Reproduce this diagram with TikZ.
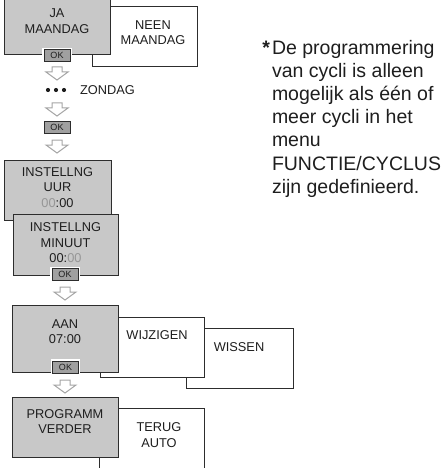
\documentclass[tikz,border=0pt]{standalone}
\usepackage{fontspec}
\setmainfont{Liberation Sans}
\definecolor{boxgray}{RGB}{200,200,200}
\definecolor{okgray}{RGB}{160,160,160}
\definecolor{edge}{RGB}{45,45,45}
\definecolor{arrowgray}{RGB}{165,165,165}
\definecolor{dimtext}{RGB}{150,150,150}
\definecolor{txt}{RGB}{30,30,30}
\begin{document}
\begin{tikzpicture}[x=1pt,y=-1pt,
  every node/.style={inner sep=0pt, outer sep=0pt},
  screen/.style={rectangle, draw=edge, line width=0.9pt, fill=boxgray},
  option/.style={rectangle, draw=edge, line width=0.9pt, fill=white},
  lbl/.style={text=txt, align=center, font=\fontsize{12.8}{15.5}\selectfont},
  okbtn/.style={rectangle, fill=okgray, draw=edge, line width=0.6pt,
    minimum width=26pt, minimum height=12pt,
    font=\fontsize{9}{10}\selectfont, text=txt,
    preaction={draw=white, line width=3.5pt}},
  hollowdown/.pic={\draw[draw=arrowgray, fill=white, line width=1pt, line join=miter]
    (-5,0) -- (5,0) -- (5,5) -- (11,5) -- (0,13) -- (-11,5) -- (-5,5) -- cycle;},
  note/.style={text=txt, align=left, font=\fontsize{19.5}{23.2}\selectfont},
]
\useasboundingbox (0,0) rectangle (444,468);

% --- Monday choice
\node[option, minimum width=105pt, minimum height=60pt] (neen) at (144.5,36) {};
\node[lbl] (neent) at (153,32.5) {NEEN\\MAANDAG};
\node[screen, minimum width=106pt, minimum height=59pt] (ja) at (57,24.5) {};
\node[lbl] (jat) at (57,21) {JA\\MAANDAG};
\node[okbtn] (ok1) at (57,55.5) {OK};
\pic at (57,67) {hollowdown};

% --- dots ZONDAG
\fill[txt] (48,90) circle[radius=2.1pt] (56,90) circle[radius=2.1pt] (64,90) circle[radius=2.1pt];
\node[lbl, anchor=west] (zon) at (80,90) {ZONDAG};
\pic at (57,103) {hollowdown};
\node[okbtn] (ok2) at (57,127) {OK};
\pic at (57,140) {hollowdown};

% --- hour / minute
\node[screen, minimum width=107pt, minimum height=60pt] (uur) at (57.5,190) {};
\node[lbl] (uurt) at (57.5,187.5) {INSTELLNG\\UUR\\{\color{dimtext}00}:00};
\node[screen, minimum width=105pt, minimum height=61pt] (min) at (65.5,244.5) {};
\node[lbl] (mint) at (65.5,243) {INSTELLNG\\MINUUT\\00:{\color{dimtext}00}};
\node[okbtn] (ok3) at (65,274.5) {OK};
\pic at (65,287) {hollowdown};

% --- AAN / WIJZIGEN / WISSEN
\node[option, minimum width=107pt, minimum height=60pt] (wiss) at (239.5,358) {};
\node[lbl] (wisst) at (239,347) {WISSEN};
\node[option, minimum width=104pt, minimum height=60pt] (wijz) at (152,347) {};
\node[lbl] (wijzt) at (157,335) {WIJZIGEN};
\node[screen, minimum width=106pt, minimum height=67pt] (aan) at (65,338.5) {};
\node[lbl] (aant) at (65,331.5) {AAN\\07:00};
\node[okbtn] (ok4) at (65.5,367) {OK};
\pic at (65,380) {hollowdown};

% --- PROGRAMM VERDER / TERUG AUTO
\node[option, minimum width=105pt, minimum height=70pt] (terug) at (151.5,443) {};
\node[lbl] (terugt) at (159,435) {TERUG\\AUTO};
\node[screen, minimum width=106pt, minimum height=60pt] (prog) at (65,427) {};
\node[lbl] (progt) at (65,421.5) {PROGRAMM\\VERDER};

% --- footnote (base anchor = baseline of the last line)
\node[note, anchor=base west] (fn) at (272,193.2)
  {\llap{\bfseries *\hspace{2pt}}De programmering\\van cycli is alleen\\mogelijk als één of\\meer cycli in het\\menu\\FUNCTIE/CYCLUS\\zijn gedefinieerd.};
\end{tikzpicture}
\end{document}
